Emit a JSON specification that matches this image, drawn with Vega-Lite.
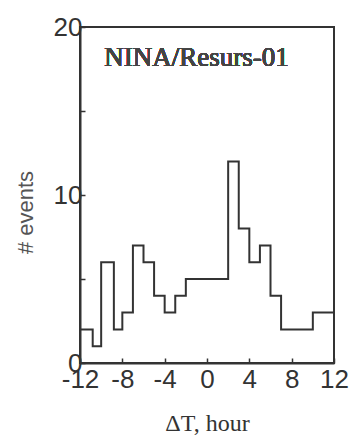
{
  "$schema": "https://vega.github.io/schema/vega-lite/v6.json",
  "autosize": "none",
  "width": 254,
  "height": 336,
  "padding": {"left": 80, "top": 27, "right": 19, "bottom": 72},
  "background": "white",
  "view": {"stroke": "#333", "strokeWidth": 2},
  "config": {
    "axis": {
      "grid": false,
      "domainColor": "#333",
      "domainWidth": 2,
      "tickColor": "#333",
      "tickWidth": 1.5,
      "tickSize": -5,
      "labelFont": "Liberation Sans",
      "labelFontSize": 26,
      "labelColor": "#333",
      "titleColor": "#555",
      "labelFlush": false,
      "labelOverlap": false
    }
  },
  "data": {
    "values": [
      {"t": -12, "n": 2},
      {"t": -10.8, "n": 1},
      {"t": -10, "n": 6},
      {"t": -8.8, "n": 2},
      {"t": -8, "n": 3},
      {"t": -7, "n": 7},
      {"t": -6, "n": 6},
      {"t": -5, "n": 4},
      {"t": -4, "n": 3},
      {"t": -3, "n": 4},
      {"t": -2, "n": 5},
      {"t": 2, "n": 12},
      {"t": 3, "n": 8},
      {"t": 4, "n": 6},
      {"t": 5, "n": 7},
      {"t": 6, "n": 4},
      {"t": 7, "n": 2},
      {"t": 10, "n": 3},
      {"t": 12, "n": 3}
    ]
  },
  "layer": [
    {
      "mark": {"type": "line", "interpolate": "step-after", "color": "#333", "strokeWidth": 2},
      "encoding": {
        "x": {
          "field": "t",
          "type": "quantitative",
          "scale": {"domain": [-12, 12], "nice": false},
          "axis": {
            "values": [-12, -10, -8, -6, -4, -2, 0, 2, 4, 6, 8, 10, 12],
            "labelExpr": "datum.value % 4 == 0 ? toString(datum.value) : ''",
            "labelPadding": 8,
            "title": "ΔT, hour",
            "titleFont": "Liberation Serif",
            "titleFontSize": 24,
            "titleFontWeight": "normal",
            "titleColor": "#333",
            "titlePadding": 19
          }
        },
        "y": {
          "field": "n",
          "type": "quantitative",
          "scale": {"domain": [0, 20], "nice": false},
          "axis": {
            "values": [0, 5, 10, 15, 20],
            "labelExpr": "datum.value % 10 == 0 ? toString(datum.value) : ''",
            "labelPadding": 3,
            "title": "# events",
            "titleFont": "Liberation Sans",
            "titleFontSize": 22,
            "titleFontWeight": "normal",
            "titleX": -55,
            "titleY": 185,
            "titleAngle": -90,
            "titleBaseline": "middle",
            "titleAlign": "center"
          }
        }
      }
    },
    {
      "mark": {"type": "text", "font": "Liberation Serif", "fontSize": 27, "fontWeight": "normal", "color": "#444", "align": "center", "baseline": "alphabetic"},
      "encoding": {
        "x": {"datum": -1},
        "y": {"datum": 17.7},
        "text": {"value": "NINA/Resurs-01"}
      }
    }
  ]
}
